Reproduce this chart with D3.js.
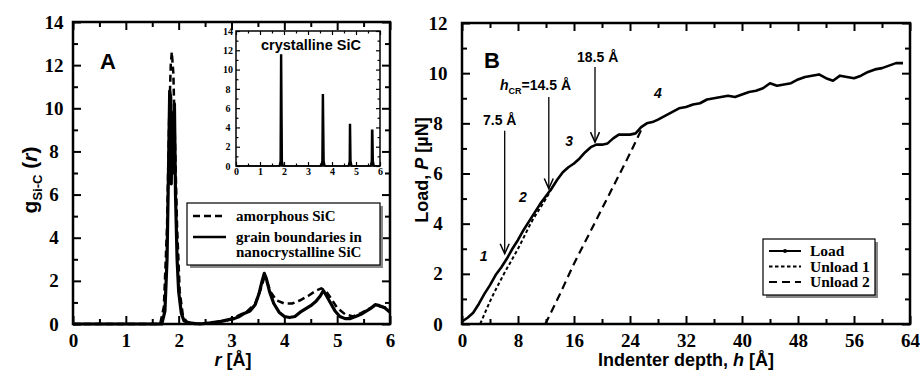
<!DOCTYPE html>
<html>
<head>
<meta charset="utf-8">
<script src="https://cdn.jsdelivr.net/npm/d3@7"></script>
<style>
  body { margin: 0; background: #fff; }
  .tick text { font-family: "Liberation Serif", serif; font-weight: bold; }
</style>
</head>
<body>
<svg id="fig" width="920" height="373"></svg>
<script>
// ---- panel A data: g_Si-C(r) ----
const amorphousSiC = [
  [0,0],[1.65,0],[1.72,0.8],[1.78,4.5],[1.82,9.5],[1.85,12.0],[1.87,12.6],[1.9,11.6],
  [1.93,8.5],[1.97,4.5],[2.02,1.5],[2.08,0.4],[2.15,0.1],[2.3,0],[2.6,0.05],[2.9,0.15],
  [3.1,0.35],[3.3,0.6],[3.45,0.95],[3.55,1.6],[3.62,2.15],[3.68,1.9],[3.75,1.45],[3.85,1.1],
  [4.0,0.95],[4.15,0.95],[4.3,1.1],[4.45,1.3],[4.6,1.55],[4.7,1.65],[4.78,1.55],[4.88,1.2],
  [5.0,0.75],[5.15,0.45],[5.3,0.35],[5.45,0.5],[5.6,0.7],[5.72,0.85],[5.85,0.8],[6.0,0.7]
];
const grainBoundaries = [
  [0,0],[1.68,0],[1.74,0.6],[1.78,3.0],[1.81,7.5],[1.83,10.8],[1.85,10.5],[1.86,6.5],
  [1.88,9.8],[1.9,7.0],[1.92,10.2],[1.94,6.0],[1.97,3.0],[2.0,1.5],[2.05,0.5],[2.1,0.15],
  [2.2,0.05],[2.4,0],[2.6,0.05],[2.8,0.12],[2.95,0.2],[3.05,0.25],[3.15,0.35],[3.25,0.5],
  [3.35,0.6],[3.45,0.9],[3.52,1.4],[3.58,2.0],[3.62,2.35],[3.66,2.1],[3.72,1.5],[3.8,0.95],
  [3.9,0.55],[4.0,0.35],[4.1,0.3],[4.2,0.35],[4.3,0.55],[4.4,0.7],[4.5,0.85],[4.6,1.05],
  [4.68,1.3],[4.74,1.55],[4.8,1.3],[4.88,0.95],[4.96,0.6],[5.05,0.35],[5.15,0.25],[5.25,0.25],
  [5.35,0.35],[5.45,0.45],[5.55,0.6],[5.65,0.75],[5.72,0.9],[5.8,0.85],[5.9,0.75],[6.0,0.55]
];
const crystallineSiC = [
  [0,0],[1.8,0],[1.84,0.5],[1.86,11.5],[1.9,11.5],[1.93,0.5],[1.97,0],
  [3.54,0],[3.58,0.5],[3.6,7.4],[3.64,7.4],[3.67,0.5],[3.71,0],
  [4.68,0],[4.72,0.5],[4.73,4.3],[4.77,4.3],[4.79,0.5],[4.83,0],
  [5.6,0],[5.64,0.5],[5.65,3.7],[5.7,3.7],[5.72,0.5],[5.76,0],[6,0]
];
const legendA = ["amorphous SiC", "grain boundaries in", "nanocrystalline SiC"];

// ---- panel B data: load / unload ----
const loadCurve = [
  [0,0.1],[0.8,0.25],[1.6,0.45],[2.4,0.8],[3.2,1.2],[4.0,1.55],[4.8,1.95],[5.6,2.25],
  [6.4,2.6],[7.2,3.0],[8.0,3.35],[8.8,3.75],[9.6,4.1],[10.4,4.45],[11.2,4.8],[12.0,5.1],
  [12.8,5.4],[13.6,5.75],[14.4,6.05],[15.2,6.25],[16.0,6.4],[16.8,6.6],[17.6,6.85],[18.4,7.05],
  [19.2,7.15],[20.0,7.15],[20.8,7.2],[21.6,7.4],[22.4,7.55],[23.2,7.55],[24.0,7.55],[24.8,7.6],
  [25.6,7.85],[26.4,8.0],[27.2,8.05],[28.0,8.15],[29,8.3],[30,8.45],[31,8.6],[32,8.65],
  [33,8.75],[34,8.8],[35,8.95],[36,9.0],[37,9.05],[38,9.1],[39,9.05],[40,9.15],
  [41,9.25],[42,9.3],[43,9.4],[44,9.6],[45,9.5],[46,9.55],[47,9.6],[48,9.75],
  [49,9.85],[50,9.9],[51,9.95],[52,9.8],[53,9.7],[54,9.9],[55,9.85],[56,9.8],
  [57,9.9],[58,10.05],[59,10.15],[60,10.2],[61,10.3],[62,10.4],[63,10.4]
];
const unload1 = [[2.6,0],[4,0.9],[6,2.0],[8,3.0],[10,4.1],[12,5.0],[13,5.5]];
const unload2 = [[11.9,0],[14,1.2],[16,2.4],[18,3.5],[20,4.6],[22,5.7],[24,6.8],[25.7,7.8]];
const legendB = ["Load", "Unload 1", "Unload 2"];
// arrows: [h, top load, tip load]
const arrowsB = [[6.1,7.7,2.8],[12.4,9.05,5.4],[19.0,10.25,7.25]];
const regionLabels = [["1",3.1,2.5],["2",8.7,4.85],["3",15.3,7.1],["4",28,9.0]];

const svg = d3.select("#fig");
svg.append("rect").attr("width", 920).attr("height", 373).attr("fill", "#fff");

function frame(g, x, y, opt) {
  const [x0, x1] = x.range(), [y0, y1] = y.range();
  const bottom = g.append("g").attr("transform", `translate(0,${y0})`);
  const top = g.append("g").attr("transform", `translate(0,${y1})`);
  const left = g.append("g").attr("transform", `translate(${x0},0)`);
  const right = g.append("g").attr("transform", `translate(${x1},0)`);
  const M = opt.major, m = opt.minor;
  bottom.call(d3.axisBottom(x).tickValues(opt.xMinor).tickSize(-m).tickFormat(""));
  bottom.append("g").call(d3.axisBottom(x).tickValues(opt.xMajor).tickSize(-M).tickPadding(opt.xPad).tickFormat(d3.format("d")));
  top.call(d3.axisTop(x).tickValues(opt.xMinor).tickSize(-m).tickFormat(""));
  top.append("g").call(d3.axisTop(x).tickValues(opt.xMajor).tickSize(-M).tickFormat(""));
  left.call(d3.axisLeft(y).tickValues(opt.yMinor).tickSize(-m).tickFormat(""));
  left.append("g").call(d3.axisLeft(y).tickValues(opt.yMajor).tickSize(-M).tickPadding(opt.yPad).tickFormat(d3.format("d")));
  right.call(d3.axisRight(y).tickValues(opt.yMinor).tickSize(-m).tickFormat(""));
  right.append("g").call(d3.axisRight(y).tickValues(opt.yMajor).tickSize(-M).tickFormat(""));
  g.selectAll(".domain").remove();
  g.selectAll(".tick line").attr("stroke", "#000").attr("stroke-width", opt.sw);
  g.selectAll(".tick text").attr("font-size", opt.fs).attr("fill", "#000");
  left.selectAll(".tick text").attr("text-anchor", "middle").attr("x", -opt.yPad);
  g.append("rect").attr("x", x0).attr("y", y1).attr("width", x1 - x0).attr("height", y0 - y1)
    .attr("fill", "none").attr("stroke", "#000").attr("stroke-width", opt.fw);
}

const range = (a, b, s) => d3.range(a, b + 1e-9, s);

// ================= Panel A =================
const xA = d3.scaleLinear().domain([0, 6]).range([73, 390]);
const yA = d3.scaleLinear().domain([0, 14]).range([324, 22]);
const gA = svg.append("g");
const lineA = d3.line().x(d => xA(d[0])).y(d => yA(d[1]));

gA.append("path").datum(amorphousSiC).attr("d", lineA).attr("fill", "none")
  .attr("stroke", "#000").attr("stroke-width", 2.5).attr("stroke-dasharray", "7,4");
gA.append("path").datum(grainBoundaries).attr("d", lineA).attr("fill", "none")
  .attr("stroke", "#000").attr("stroke-width", 3.2).attr("stroke-linejoin", "round");

frame(gA, xA, yA, {
  xMajor: range(0, 6, 1), xMinor: range(0.5, 5.5, 1),
  yMajor: range(0, 14, 2), yMinor: range(1, 13, 2),
  major: 8, minor: 5, xPad: 10, yPad: 19, fs: 19, sw: 2, fw: 2.5
});

gA.append("text").attr("x", 100).attr("y", 69).text("A")
  .attr("font-family", "Liberation Sans, sans-serif").attr("font-weight", "bold").attr("font-size", 22);

// axis titles A
const tA = gA.append("text").attr("x", 233).attr("y", 366).attr("text-anchor", "middle")
  .attr("font-family", "Liberation Sans, sans-serif").attr("font-weight", "bold").attr("font-size", 18);
tA.append("tspan").attr("font-style", "italic").text("r");
tA.append("tspan").text(" [Å]");

const yTitleA = gA.append("text").attr("transform", "translate(37,180) rotate(-90)")
  .attr("text-anchor", "middle")
  .attr("font-family", "Liberation Sans, sans-serif").attr("font-weight", "bold").attr("font-size", 21);
yTitleA.append("tspan").text("g");
yTitleA.append("tspan").attr("font-size", 13).attr("dy", 5).text("Si-C");
yTitleA.append("tspan").attr("dy", -5).text(" (");
yTitleA.append("tspan").attr("font-style", "italic").text("r");
yTitleA.append("tspan").text(")");

// legend A
const lgA = gA.append("g");
lgA.append("rect").attr("x", 190).attr("y", 206).attr("width", 193).attr("height", 62).attr("fill", "#888");
lgA.append("rect").attr("x", 187).attr("y", 203).attr("width", 193).attr("height", 62)
  .attr("fill", "#fff").attr("stroke", "#000").attr("stroke-width", 1.2);
lgA.append("line").attr("x1", 193).attr("x2", 226).attr("y1", 216).attr("y2", 216)
  .attr("stroke", "#000").attr("stroke-width", 2.5).attr("stroke-dasharray", "7,4");
lgA.append("line").attr("x1", 193).attr("x2", 226).attr("y1", 237).attr("y2", 237)
  .attr("stroke", "#000").attr("stroke-width", 2.5);
lgA.selectAll("text.lg").data(legendA).join("text").attr("class", "lg")
  .attr("x", 236).attr("y", (d, i) => [221, 242, 257][i]).text(d => d)
  .attr("font-family", "Liberation Serif, serif").attr("font-weight", "bold").attr("font-size", 15);

// inset
const xI = d3.scaleLinear().domain([0, 6]).range([236, 380]);
const yI = d3.scaleLinear().domain([0, 14]).range([166, 31]);
const gI = svg.append("g");
gI.append("rect").attr("x", 236).attr("y", 31).attr("width", 144).attr("height", 135).attr("fill", "#fff");
gI.append("path").datum(crystallineSiC)
  .attr("d", d3.line().x(d => xI(d[0])).y(d => yI(d[1])))
  .attr("fill", "#000").attr("stroke", "#000").attr("stroke-width", 1.5);
frame(gI, xI, yI, {
  xMajor: range(0, 6, 1), xMinor: range(0.5, 5.5, 1),
  yMajor: range(0, 14, 2), yMinor: range(1, 13, 2),
  major: 4, minor: 2.5, xPad: 2, yPad: 8, fs: 10, sw: 1.2, fw: 1.5
});
gI.append("text").attr("x", 311).attr("y", 50).attr("text-anchor", "middle").text("crystalline SiC")
  .attr("font-family", "Liberation Sans, sans-serif").attr("font-weight", "bold").attr("font-size", 14.5);

// ================= Panel B =================
const xB = d3.scaleLinear().domain([0, 64]).range([462, 910]);
const yB = d3.scaleLinear().domain([0, 12]).range([324, 23]);
const gB = svg.append("g");
const lineB = d3.line().x(d => xB(d[0])).y(d => yB(d[1]));

gB.append("path").datum(unload1).attr("d", lineB.curve(d3.curveMonotoneX)).attr("fill", "none")
  .attr("stroke", "#000").attr("stroke-width", 2).attr("stroke-dasharray", "3.5,2.5");
gB.append("path").datum(unload2).attr("d", lineB).attr("fill", "none")
  .attr("stroke", "#000").attr("stroke-width", 2.2).attr("stroke-dasharray", "8,5");
gB.append("path").datum(loadCurve).attr("d", d3.line().x(d => xB(d[0])).y(d => yB(d[1]))).attr("fill", "none")
  .attr("stroke", "#000").attr("stroke-width", 2.6).attr("stroke-linejoin", "round");

frame(gB, xB, yB, {
  xMajor: range(0, 64, 8), xMinor: range(4, 60, 8),
  yMajor: range(0, 12, 2), yMinor: range(1, 11, 2),
  major: 8, minor: 5, xPad: 10, yPad: 24, fs: 19, sw: 2, fw: 2.5
});

gB.append("text").attr("x", 484).attr("y", 68).text("B")
  .attr("font-family", "Liberation Sans, sans-serif").attr("font-weight", "bold").attr("font-size", 22);

const tB = gB.append("text").attr("x", 686).attr("y", 366).attr("text-anchor", "middle")
  .attr("font-family", "Liberation Sans, sans-serif").attr("font-weight", "bold").attr("font-size", 18);
tB.append("tspan").text("Indenter depth, ");
tB.append("tspan").attr("font-style", "italic").text("h");
tB.append("tspan").text(" [Å]");

const yTitleB = gB.append("text").attr("transform", "translate(428,170) rotate(-90)")
  .attr("text-anchor", "middle")
  .attr("font-family", "Liberation Sans, sans-serif").attr("font-weight", "bold").attr("font-size", 18);
yTitleB.append("tspan").text("Load, ");
yTitleB.append("tspan").attr("font-style", "italic").text("P");
yTitleB.append("tspan").text(" [µN]");

// arrows
arrowsB.forEach(([h, p0, p1]) => {
  const ax = xB(h), ay0 = yB(p0), ay1 = yB(p1);
  gB.append("line").attr("x1", ax).attr("x2", ax).attr("y1", ay0).attr("y2", ay1)
    .attr("stroke", "#000").attr("stroke-width", 1.3);
  gB.append("path").attr("d", `M${ax - 4.5},${ay1 - 10}L${ax},${ay1}L${ax + 4.5},${ay1 - 10}`)
    .attr("fill", "none").attr("stroke", "#000").attr("stroke-width", 1.5);
});

const annFont = sel => sel.attr("font-family", "Liberation Sans, sans-serif").attr("font-weight", "bold").attr("font-size", 14);
annFont(gB.append("text").attr("x", 577).attr("y", 62).text("18.5 Å"));
annFont(gB.append("text").attr("x", 483).attr("y", 125).text("7.5 Å"));
const hcr = annFont(gB.append("text").attr("x", 500).attr("y", 90));
hcr.append("tspan").attr("font-style", "italic").text("h");
hcr.append("tspan").attr("font-size", 9).attr("dy", 4).text("CR");
hcr.append("tspan").attr("dy", -4).text("=14.5 Å");

gB.selectAll("text.reg").data(regionLabels).join("text").attr("class", "reg")
  .attr("x", d => xB(d[1])).attr("y", d => yB(d[2])).attr("text-anchor", "middle").text(d => d[0])
  .attr("font-family", "Liberation Sans, sans-serif").attr("font-weight", "bold")
  .attr("font-style", "italic").attr("font-size", 14);

// legend B
const lgB = gB.append("g");
lgB.append("rect").attr("x", 766).attr("y", 242).attr("width", 112).attr("height", 56).attr("fill", "#888");
lgB.append("rect").attr("x", 763).attr("y", 239).attr("width", 112).attr("height", 56)
  .attr("fill", "#fff").attr("stroke", "#000").attr("stroke-width", 1.2);
const dashB = [null, "3.5,2.5", "8,5"];
legendB.forEach((name, i) => {
  const yy = 251 + i * 15.5;
  lgB.append("line").attr("x1", 769).attr("x2", 801).attr("y1", yy).attr("y2", yy)
    .attr("stroke", "#000").attr("stroke-width", 2).attr("stroke-dasharray", dashB[i]);
  if (i === 0) lgB.append("circle").attr("cx", 785).attr("cy", yy).attr("r", 2).attr("fill", "#000");
  lgB.append("text").attr("x", 810).attr("y", yy + 5).text(name)
    .attr("font-family", "Liberation Serif, serif").attr("font-weight", "bold").attr("font-size", 15.5);
});
</script>
</body>
</html>
